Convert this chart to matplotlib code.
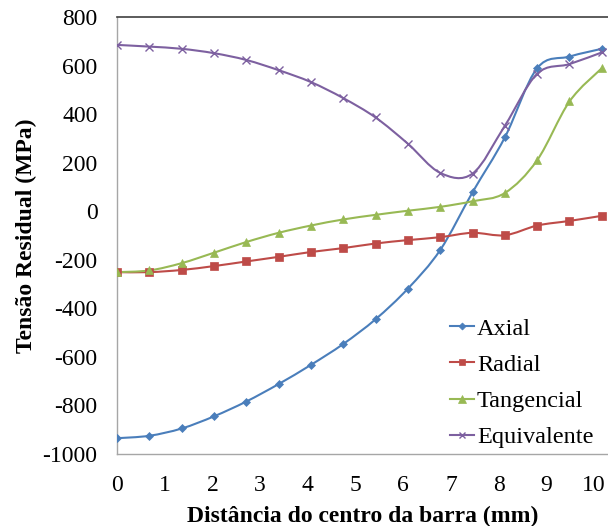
import numpy as np
import matplotlib
matplotlib.use("Agg")
import matplotlib.pyplot as plt
from matplotlib.path import Path
from matplotlib.patches import PathPatch
from matplotlib.lines import Line2D

plt.rcParams['font.family'] = ['Liberation Serif', 'DejaVu Serif']
plt.rcParams['axes.unicode_minus'] = False

# Distance from the bar centre (mm)
distancia = [0.0, 0.677, 1.355, 2.032, 2.709, 3.387, 4.064, 4.741, 5.419,
             6.096, 6.773, 7.451, 8.128, 8.805, 9.483, 10.16]

# Residual stresses (MPa)
axial = [-935, -925, -895, -845, -784, -712, -633, -547, -445, -319,
         -160, 78, 304, 589, 637, 669]
radial = [-251, -251, -242, -226, -207, -188, -168, -152, -133, -119,
          -107, -89, -99, -59, -40, -19]
tangencial = [-251, -244, -214, -171, -127, -89, -59, -34, -15, 2,
              18, 41, 75, 210, 452, 589]
equivalente = [685, 678, 669, 651, 623, 581, 532, 466, 386, 278,
               158, 155, 352, 566, 606, 654]

series = [
    ("Axial", axial, "#4A7EBB", "D", 4.2),
    ("Radial", radial, "#BE4B48", "s", 5.5),
    ("Tangencial", tangencial, "#98B954", "^", 6.0),
    ("Equivalente", equivalente, "#7D60A0", "x", 5.5),
]

xticks = list(range(0, 11))
yticks = list(range(-1000, 801, 200))


def smooth_path(xs, ys):
    """Cubic Bezier path through the points (Catmull-Rom style smoothing)."""
    pts = np.column_stack([xs, ys]).astype(float)
    n = len(pts)
    verts = [pts[0]]
    codes = [Path.MOVETO]
    for i in range(n - 1):
        p0 = pts[i - 1] if i > 0 else pts[i]
        p1 = pts[i]
        p2 = pts[i + 1]
        p3 = pts[i + 2] if i + 2 < n else pts[i + 1]
        c1 = p1 + (p2 - p0) / 6.0
        c2 = p2 - (p3 - p1) / 6.0
        verts += [c1, c2, p2]
        codes += [Path.CURVE4] * 3
    return Path(verts, codes)


fig = plt.figure(figsize=(6.08, 5.26), dpi=100)
ax = fig.add_axes([0.1924, 0.1369, 0.8076, 0.8308])

handles = []
for name, vals, color, marker, ms in series:
    patch = PathPatch(smooth_path(distancia, vals), facecolor='none',
                      edgecolor=color, lw=1.5, zorder=2)
    ax.add_patch(patch)
    mew = 1.0 if marker == 'x' else 0.5
    ax.plot(distancia, vals, linestyle='none', marker=marker, ms=ms,
            color=color, mec=color, mew=mew, zorder=3)
    handles.append(Line2D([0], [0], color=color, lw=1.5, marker=marker,
                          ms=ms * 0.85, mec=color, mew=mew))

ax.set_xlim(0, 10.29)
ax.set_ylim(-1000, 800)
ax.set_xticks(xticks)
ax.set_yticks(yticks)
ax.tick_params(axis='both', length=0, labelsize=17)
ax.tick_params(axis='x', pad=15)
ax.tick_params(axis='y', pad=14)

ax.spines['right'].set_visible(False)
ax.spines['top'].set_color('#404040')
ax.spines['top'].set_linewidth(1.2)
for s in ('left', 'bottom'):
    ax.spines[s].set_color('#A6A6A6')
    ax.spines[s].set_linewidth(1.0)

ax.set_xlabel('Distância do centro da barra (mm)', fontsize=17,
              fontweight='bold', labelpad=7)
ax.set_ylabel('Tensão Residual (MPa)', fontsize=17, fontweight='bold',
              labelpad=4)

ax.legend(handles, [s[0] for s in series], loc='lower right',
          bbox_to_anchor=(0.99, -0.009), frameon=False, fontsize=17.5,
          handlelength=1.0, handletextpad=0.1, labelspacing=0.58,
          borderaxespad=0.0)

fig.savefig('out.png', dpi=100)
